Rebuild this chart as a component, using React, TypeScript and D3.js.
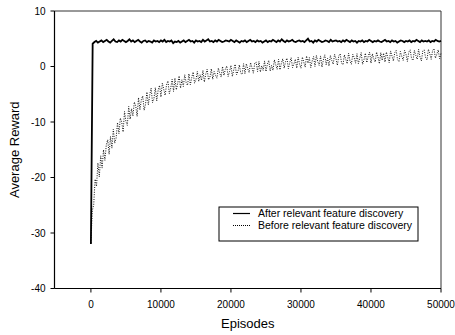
import React from "react";
import * as d3 from "d3";

const W = 455;
const H = 335;

const xTicks = [0, 10000, 20000, 30000, 40000, 50000];
const yTicks = [10, 0, -10, -20, -30, -40];

const seriesNames = ["After relevant feature discovery", "Before relevant feature discovery"];

// Before relevant feature discovery: episodes 0, 200, ..., 50000
const beforeStep = 200;
const beforeValues = [
  -31.8, -26.0, -24.9, -20.3, -21.6, -17.4, -19.9, -16.1, -18.3, -15.0,
  -16.9, -14.1, -13.2, -15.8, -12.6, -14.7, -11.3, -13.8, -12.9, -10.1,
  -12.1, -9.3, -10.0, -11.8, -8.1, -9.9, -10.6, -7.2, -9.5, -7.6,
  -8.9, -6.4, -7.1, -9.0, -5.6, -7.8, -6.0, -5.3, -7.9, -6.8,
  -4.6, -6.9, -5.1, -3.9, -6.5, -5.8, -3.8, -6.2, -4.3, -3.4,
  -5.5, -3.0, -4.1, -5.2, -3.3, -2.6, -4.9, -3.9, -2.3, -4.5,
  -2.1, -4.2, -3.0, -1.7, -3.9, -2.4, -3.6, -1.5, -2.9, -3.4,
  -1.3, -3.3, -2.0, -1.0, -3.0, -2.4, -0.9, -2.7, -1.5, -2.5,
  -0.7, -2.8, -1.4, -0.5, -2.4, -1.9, -0.4, -2.3, -0.9, -1.6,
  -2.1, -0.3, -1.2, -1.9, 0.0, -1.6, -0.5, 0.1, -1.8, -0.9,
  0.2, -1.8, -0.6, 0.4, -1.5, -0.9, 0.3, -1.2, -1.4, 0.5,
  -1.3, 0.5, -0.4, -1.1, 0.7, -0.2, -1.2, 0.6, 0.8, -0.9,
  0.9, -1.0, 0.1, -0.7, 1.0, -0.9, 0.4, 1.1, -0.8, 0.2,
  -0.7, 1.2, 0.3, -0.5, 1.3, -0.6, 0.6, 1.4, -0.3, 0.9,
  1.5, -0.4, 0.7, 1.6, -0.2, 0.5, 1.3, -0.3, 1.7, 0.4,
  -0.3, 1.7, 0.8, -0.1, 1.9, 0.6, 1.6, -0.2, 1.0, 1.8,
  0.0, 2.0, 0.9, 0.2, 1.9, -0.1, 1.2, 2.1, 0.3, 1.5,
  0.1, 2.0, 1.1, 0.4, 2.2, 1.4, 0.2, 1.9, 2.3, 0.6,
  0.3, 2.1, 1.3, 0.5, 2.4, 1.0, 0.4, 2.2, 1.6, 0.6,
  2.3, 0.5, 1.5, 2.5, 0.4, 1.2, 2.4, 0.7, 1.8, 2.6,
  0.6, 2.3, 1.4, 0.8, 2.6, 1.7, 0.5, 2.5, 1.1, 2.4,
  0.8, 2.6, 1.6, 0.7, 2.8, 1.9, 1.0, 2.5, 2.9, 1.2,
  0.9, 2.7, 1.8, 1.1, 2.9, 2.2, 0.9, 2.6, 3.0, 1.4,
  1.1, 2.9, 2.0, 1.3, 3.1, 1.7, 1.0, 2.8, 3.0, 1.6,
  1.2, 3.1, 2.3, 1.3, 2.9, 3.2, 1.5, 2.2, 3.0, 1.4,
  2.4,
];

// After relevant feature discovery: episodes 0, 250, ..., 50000
const afterStep = 250;
const afterValues = [
  -32.0,
  4.1, 4.4, 4.6, 4.3, 4.5, 4.7, 4.4, 4.6, 4.8, 4.5, 4.3, 4.6, 4.9, 4.5, 4.4, 4.7, 4.5, 4.8, 4.6, 4.4,
  4.6, 4.9, 4.5, 4.7, 4.4, 4.6, 4.8, 4.5, 4.3, 4.6, 4.7, 4.4, 4.6, 4.5, 4.3, 4.7, 4.5, 4.6, 4.4, 4.7,
  4.5, 4.8, 4.4, 4.6, 4.5, 4.7, 4.2, 4.5, 4.4, 4.6, 4.3, 4.5, 4.7, 4.4, 4.6, 4.8, 4.5, 4.6, 4.3, 4.7,
  4.5, 4.6, 4.4, 4.8, 4.5, 4.7, 4.9, 4.5, 4.6, 4.4, 4.7, 4.5, 4.8, 4.6, 4.4, 4.5, 4.7, 4.6, 4.5, 4.8,
  4.6, 4.4, 4.7, 4.5, 4.3, 4.6, 4.5, 4.7, 4.4, 4.6, 4.8, 4.5, 4.6, 4.4, 4.7, 4.5, 4.6, 4.3, 4.5, 4.7,
  4.4, 4.6, 4.5, 4.8, 4.6, 4.4, 4.7, 4.5, 4.9, 4.6, 4.4, 4.7, 4.5, 4.6, 4.8, 4.5, 4.4, 4.6, 4.7, 4.5,
  4.6, 4.4, 4.7, 5.0, 4.5, 4.6, 4.3, 4.7, 4.5, 4.8, 4.6, 4.4, 4.5, 4.7, 4.6, 4.4, 4.8, 4.5, 4.6, 4.7,
  4.5, 4.6, 4.4, 4.7, 4.5, 4.8, 4.6, 4.4, 4.7, 4.5, 4.6, 4.3, 4.6, 4.5, 4.7, 4.4, 4.6, 4.5, 4.8, 4.6,
  4.4, 4.6, 4.5, 4.7, 4.5, 4.4, 4.6, 4.8, 4.5, 4.6, 4.4, 4.7, 4.5, 4.6, 4.3, 4.5, 4.7, 4.6, 4.4, 4.6,
  4.5, 4.7, 4.4, 4.6, 4.5, 4.8, 4.6, 4.4, 4.7, 4.5, 4.6, 4.5, 4.7, 4.4, 4.6, 4.5, 4.8, 4.6, 4.5, 4.6,
];

const FONT = "'Liberation Sans', Arial, sans-serif";

export default function App() {
  const left = 54.5, right = 441, top = 11, bottom = 288.5;
  const x = d3.scaleLinear().domain([-5200, 50000]).range([left, right]);
  const y = d3.scaleLinear().domain([-40, 10]).range([bottom, top]);

  const line = d3
    .line<[number, number]>()
    .x((d) => x(d[0]))
    .y((d) => y(d[1]));

  const beforeData: [number, number][] = beforeValues.map((v, i) => [i * beforeStep, v]);
  const afterData: [number, number][] = afterValues.map((v, i) => [i * afterStep, v]);

  const legX = 219, legY = 207, legW = 199, legH = 34;

  return (
    <svg
      width={W}
      height={H}
      style={{ position: "fixed", left: 0, top: 0, background: "#fff" }}
      fontFamily={FONT}
    >
      <rect x={0} y={0} width={W} height={H} fill="#fff" />
      {/* frame */}
      <line x1={left} x2={right} y1={top} y2={top} stroke="#333" strokeWidth={1} />
      <line x1={right} x2={right} y1={top} y2={bottom} stroke="#333" strokeWidth={1} />
      <line x1={left} x2={left} y1={top} y2={bottom} stroke="#000" strokeWidth={1.2} />
      <line x1={left} x2={right} y1={bottom} y2={bottom} stroke="#000" strokeWidth={1.2} />

      {/* y ticks */}
      {yTicks.map((t) => (
        <g key={"y" + t}>
          <line x1={left - 4} x2={left} y1={y(t)} y2={y(t)} stroke="#000" />
          <text x={left - 9} y={y(t)} dy="0.35em" textAnchor="end" fontSize={10} fill="#000">
            {t}
          </text>
        </g>
      ))}
      {/* x ticks */}
      {xTicks.map((t) => (
        <g key={"x" + t}>
          <line x1={x(t)} x2={x(t)} y1={bottom} y2={bottom + 4} stroke="#000" />
          <text x={x(t)} y={bottom + 19} textAnchor="middle" fontSize={10} fill="#000">
            {t}
          </text>
        </g>
      ))}

      {/* axis titles */}
      <text x={(left + right) / 2} y={328} textAnchor="middle" fontSize={13} fill="#000">
        Episodes
      </text>
      <text
        transform={`translate(19, ${(top + bottom) / 2}) rotate(-90)`}
        textAnchor="middle"
        fontSize={13}
        fill="#000"
      >
        Average Reward
      </text>

      {/* series */}
      <path
        d={line(beforeData) || ""}
        fill="none"
        stroke="#111"
        strokeWidth={1}
        strokeDasharray="1 1.4"
      />
      <path d={line(afterData) || ""} fill="none" stroke="#000" strokeWidth={1.8} />

      {/* legend */}
      <rect x={legX} y={legY} width={legW} height={legH} fill="#fff" stroke="#000" strokeWidth={1} />
      <line x1={233} x2={250} y1={213.5} y2={213.5} stroke="#000" strokeWidth={1.2} />
      <line x1={233} x2={250} y1={225.5} y2={225.5} stroke="#000" strokeWidth={1} strokeDasharray="1 1" />
      <text x={258} y={213.5} dy="0.35em" fontSize={10.5} fill="#000">
        {seriesNames[0]}
      </text>
      <text x={258} y={225.5} dy="0.35em" fontSize={10.5} fill="#000">
        {seriesNames[1]}
      </text>
    </svg>
  );
}
